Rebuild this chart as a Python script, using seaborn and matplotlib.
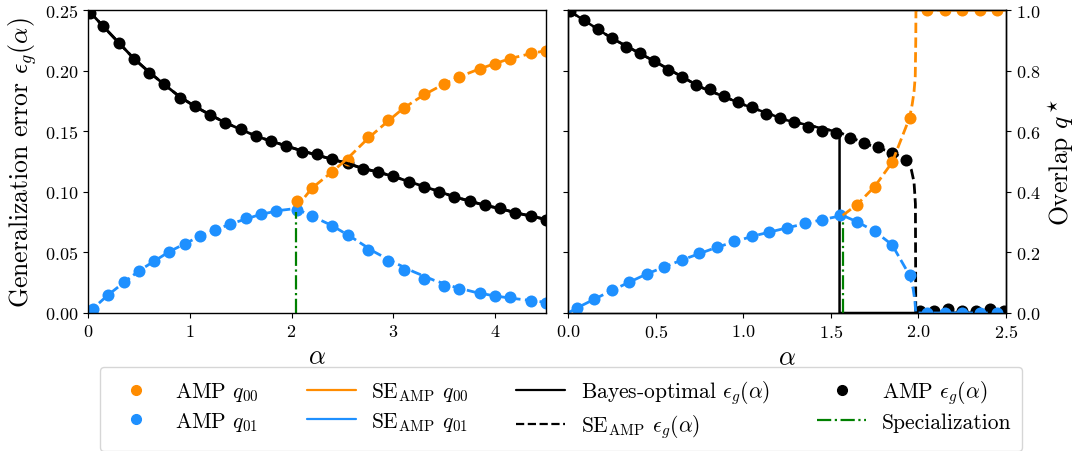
import matplotlib
matplotlib.use("Agg")
import matplotlib.pyplot as plt
from matplotlib.lines import Line2D
import seaborn as sns

ORANGE = "darkorange"
BLUE = "dodgerblue"
GREEN = "green"

# --- left panel: AMP points ---
alpha_eps_left = [0.02, 0.15, 0.30, 0.45, 0.60, 0.75, 0.90, 1.05, 1.20, 1.35, 1.50,
                  1.65, 1.80, 1.95, 2.10, 2.25, 2.40, 2.55, 2.70, 2.85, 3.00, 3.15,
                  3.30, 3.45, 3.60, 3.75, 3.90, 4.05, 4.20, 4.35, 4.50]
eps_amp_left = [0.2478, 0.2368, 0.2231, 0.2094, 0.1984, 0.1888, 0.1778, 0.1704, 0.1633,
                0.1567, 0.1517, 0.1457, 0.1421, 0.1380, 0.1331, 0.1312, 0.1270, 0.1238,
                0.1188, 0.1166, 0.1128, 0.1084, 0.1043, 0.1002, 0.0955, 0.0925, 0.0887,
                0.0865, 0.0823, 0.0804, 0.0771]

alpha_q_left = [0.05, 0.20, 0.35, 0.50, 0.65, 0.80, 0.95, 1.10, 1.25, 1.40, 1.55, 1.70,
                1.85, 2.05, 2.20, 2.40, 2.55, 2.75, 2.95, 3.10, 3.30, 3.50, 3.65, 3.85,
                4.00, 4.15, 4.35, 4.50]
q01_amp_left = [0.0035, 0.0151, 0.0255, 0.0348, 0.0431, 0.0507, 0.0573, 0.0634, 0.0688,
                0.0735, 0.0782, 0.0815, 0.0845, 0.0851, 0.0799, 0.0721, 0.0645, 0.0521,
                0.0425, 0.0357, 0.0282, 0.0219, 0.0198, 0.0165, 0.0140, 0.0134, 0.0101,
                0.0085]
alpha_q00_left = [2.05, 2.20, 2.40, 2.55, 2.75, 2.95, 3.10, 3.30, 3.50, 3.65, 3.85,
                  4.00, 4.15, 4.35, 4.50]
q00_amp_left = [0.0928, 0.1029, 0.1166, 0.1265, 0.1454, 0.1594, 0.1693, 0.1806, 0.1893,
                0.1951, 0.2017, 0.2058, 0.2099, 0.2143, 0.2162]

# --- left panel: theory curves ---
alpha_th_left = [0.0, 0.15, 0.30, 0.45, 0.60, 0.75, 0.90, 1.05, 1.20, 1.35, 1.50, 1.65,
                 1.80, 1.95, 2.10, 2.25, 2.40, 2.55, 2.70, 2.85, 3.00, 3.15, 3.30, 3.45,
                 3.60, 3.75, 3.90, 4.05, 4.20, 4.35, 4.50]
eps_th_left = [0.2500, 0.2365, 0.2232, 0.2100, 0.1988, 0.1885, 0.1785, 0.1705, 0.1635,
               0.1570, 0.1515, 0.1460, 0.1418, 0.1378, 0.1338, 0.1303, 0.1268, 0.1234,
               0.1193, 0.1163, 0.1127, 0.1085, 0.1044, 0.1002, 0.0958, 0.0924, 0.0888,
               0.0862, 0.0827, 0.0800, 0.0772]
alpha_se_q01_left = [0.0, 0.20, 0.50, 0.80, 1.10, 1.40, 1.70, 1.90, 2.04, 2.20, 2.40, 2.60,
                     2.80, 3.00, 3.20, 3.40, 3.60, 3.80, 4.00, 4.20, 4.50]
se_q01_left = [0.0, 0.0151, 0.0348, 0.0507, 0.0634, 0.0735, 0.0815, 0.0848, 0.0862,
               0.0800, 0.0720, 0.0620, 0.0510, 0.0420, 0.0340, 0.0270, 0.0215, 0.0172,
               0.0140, 0.0118, 0.0088]
alpha_se_q00_left = [2.04, 2.20, 2.40, 2.55, 2.75, 2.95, 3.10, 3.30, 3.50, 3.65, 3.85,
                     4.00, 4.15, 4.35, 4.50]
se_q00_left = [0.0862, 0.1030, 0.1166, 0.1275, 0.1440, 0.1585, 0.1690, 0.1800, 0.1890,
               0.1950, 0.2015, 0.2058, 0.2100, 0.2140, 0.2165]
spec_left = 2.04
spec_top_left = 0.083

# --- right panel: AMP points ---
alpha_eps_right = [0.01, 0.09, 0.17, 0.25, 0.33, 0.41, 0.49, 0.57, 0.65, 0.73, 0.81, 0.89,
                   0.97, 1.05, 1.13, 1.21, 1.29, 1.37, 1.45, 1.53, 1.61, 1.69, 1.77, 1.85,
                   1.93, 2.01, 2.09, 2.17, 2.25, 2.33, 2.41, 2.49]
eps_amp_right = [0.2492, 0.2418, 0.2346, 0.2267, 0.2198, 0.2143, 0.2080, 0.2003, 0.1951,
                 0.1883, 0.1847, 0.1789, 0.1743, 0.1696, 0.1641, 0.1608, 0.1572, 0.1537,
                 0.1504, 0.1485, 0.1447, 0.1405, 0.1370, 0.1323, 0.1260, 0.002, 0.002,
                 0.003, 0.002, 0.002, 0.003, 0.002]

alpha_q_right = [0.05, 0.15, 0.25, 0.35, 0.45, 0.55, 0.65, 0.75, 0.85, 0.95, 1.05, 1.15,
                 1.25, 1.35, 1.45, 1.55, 1.65, 1.75, 1.85, 1.95, 2.05, 2.15, 2.25, 2.35,
                 2.45]
q01_amp_right = [0.0164, 0.047, 0.0745, 0.102, 0.129, 0.151, 0.175, 0.197, 0.217, 0.236,
                 0.253, 0.268, 0.281, 0.296, 0.308, 0.323, 0.301, 0.270, 0.225, 0.124,
                 0.0, 0.0, 0.0, 0.0, 0.0]
alpha_q00_right = [1.65, 1.75, 1.85, 1.95, 2.05, 2.15, 2.25, 2.35, 2.45]
q00_amp_right = [0.358, 0.417, 0.497, 0.645, 1.0, 1.0, 1.0, 1.0, 1.0]

# --- right panel: theory curves ---
alpha_bayes_right = [0.0, 0.25, 0.50, 0.75, 1.00, 1.25, 1.55, 1.55, 2.50]
eps_bayes_right = [0.2500, 0.2267, 0.2072, 0.1868, 0.1720, 0.1590, 0.1490, 0.0, 0.0]
alpha_se_eps_right = [0.0, 0.25, 0.50, 0.75, 1.00, 1.25, 1.55, 1.70, 1.85, 1.93, 1.96,
                      1.975, 1.983, 1.985, 2.50]
se_eps_right = [0.2500, 0.2267, 0.2072, 0.1868, 0.1720, 0.1590, 0.1490, 0.1395, 0.1325,
                0.1265, 0.1180, 0.1080, 0.0900, 0.0, 0.0]
alpha_se_q01_right = [0.0, 0.05, 0.25, 0.45, 0.65, 0.85, 1.05, 1.25, 1.45, 1.568, 1.65,
                      1.75, 1.85, 1.95, 1.97, 1.98, 1.985, 2.50]
se_q01_right = [0.0, 0.0164, 0.0745, 0.129, 0.175, 0.217, 0.253, 0.281, 0.308, 0.322,
                0.301, 0.270, 0.225, 0.124, 0.080, 0.040, 0.0, 0.0]
alpha_se_q00_right = [1.568, 1.65, 1.75, 1.85, 1.95, 1.965, 1.975, 1.982, 1.985, 1.986,
                      2.50]
se_q00_right = [0.322, 0.358, 0.417, 0.497, 0.645, 0.690, 0.730, 0.780, 0.900, 1.0, 1.0]
spec_right = 1.568
spec_top_right = 0.30


def line(ax, x, y, color, ls="-", lw=2.0):
    sns.lineplot(x=x, y=y, ax=ax, color=color, linestyle=ls, linewidth=lw,
                 sort=False, estimator=None, legend=False)


def dots(ax, x, y, color):
    sns.scatterplot(x=x, y=y, ax=ax, color=color, s=75, linewidth=0, legend=False)


sns.set_style("ticks", {"axes.edgecolor": "black", "xtick.color": "black",
                        "ytick.color": "black", "text.color": "black",
                        "axes.labelcolor": "black"})
plt.rcParams["font.family"] = ["cmr10", "DejaVu Serif"]
plt.rcParams["mathtext.fontset"] = "cm"
plt.rcParams["axes.formatter.use_mathtext"] = True
plt.rcParams["axes.linewidth"] = 1.0

W, H = 1086, 452
fig = plt.figure(figsize=(W / 100, H / 100), dpi=100)
ax1 = fig.add_axes([88 / W, 1 - 314 / H, 458 / W, 303 / H])
ax2 = fig.add_axes([568 / W, 1 - 314 / H, 438 / W, 303 / H], sharey=ax1)
ax2r = ax2.twinx()

# left panel
dots(ax1, alpha_eps_left, eps_amp_left, "black")
line(ax1, alpha_th_left, eps_th_left, "black")
line(ax1, alpha_th_left, eps_th_left, "black", ls="--")
dots(ax1, alpha_q_left, q01_amp_left, BLUE)
dots(ax1, alpha_q00_left, q00_amp_left, ORANGE)
line(ax1, alpha_se_q00_left, se_q00_left, ORANGE, ls="--")
line(ax1, alpha_se_q01_left, se_q01_left, BLUE, ls="--")
ax1.vlines(spec_left, 0, spec_top_left, color=GREEN, linestyle="-.", linewidth=1.6)

ax1.set_xlim(0, 4.5)
ax1.set_ylim(0, 0.25)
ax1.set_xticks([0, 1, 2, 3, 4])
ax1.set_yticks([0.0, 0.05, 0.10, 0.15, 0.20, 0.25])
ax1.set_xlabel(r"$\alpha$", fontsize=19)
ax1.set_ylabel(r"Generalization error $\epsilon_g(\alpha)$", fontsize=18.5)

# right panel
dots(ax2, alpha_eps_right, eps_amp_right, "black")
line(ax2, alpha_bayes_right, eps_bayes_right, "black", lw=1.8)
line(ax2, alpha_se_eps_right, se_eps_right, "black", ls="--")
dots(ax2r, alpha_q_right, q01_amp_right, BLUE)
dots(ax2r, alpha_q00_right, q00_amp_right, ORANGE)
line(ax2r, alpha_se_q00_right, se_q00_right, ORANGE, ls="--")
line(ax2r, alpha_se_q01_right, se_q01_right, BLUE, ls="--")
ax2r.vlines(spec_right, 0, spec_top_right, color=GREEN, linestyle="-.", linewidth=1.6)

ax2.set_xlim(0, 2.5)
ax2.set_xticks([0.0, 0.5, 1.0, 1.5, 2.0, 2.5])
ax2.tick_params(labelleft=False)
ax2.set_xlabel(r"$\alpha$", fontsize=19)
ax2.set_ylabel("")
ax2r.set_ylim(0, 1)
ax2r.set_yticks([0.0, 0.2, 0.4, 0.6, 0.8, 1.0])
ax2r.set_ylabel(r"Overlap $q^\star$", fontsize=18.5)

for ax in (ax1, ax2, ax2r):
    ax.tick_params(labelsize=13)
    for sp in ax.spines.values():
        sp.set_visible(True)
        sp.set_color("black")

handles = [
    Line2D([], [], color=ORANGE, marker="o", linestyle="none", markersize=7),
    Line2D([], [], color=BLUE, marker="o", linestyle="none", markersize=7),
    Line2D([], [], color=ORANGE, linewidth=1.6),
    Line2D([], [], color=BLUE, linewidth=1.6),
    Line2D([], [], color="black", linewidth=1.6),
    Line2D([], [], color="black", linewidth=1.6, linestyle="--"),
    Line2D([], [], color="black", marker="o", linestyle="none", markersize=7),
    Line2D([], [], color=GREEN, linewidth=1.6, linestyle="-."),
]
labels = [
    r"AMP $q_{00}$",
    r"AMP $q_{01}$",
    r"SE$_{\mathrm{AMP}}$ $q_{00}$",
    r"SE$_{\mathrm{AMP}}$ $q_{01}$",
    r"Bayes-optimal $\epsilon_g(\alpha)$",
    r"SE$_{\mathrm{AMP}}$ $\epsilon_g(\alpha)$",
    r"AMP $\epsilon_g(\alpha)$",
    "Specialization",
]
fig.legend(handles, labels, ncol=4, loc="center", bbox_to_anchor=(561 / W, 1 - 410 / H),
           fontsize=15.5, handlelength=2.3, handletextpad=0.7, columnspacing=2.2,
           labelspacing=0.3, borderpad=0.5)

fig.savefig("out.png", dpi=100)
